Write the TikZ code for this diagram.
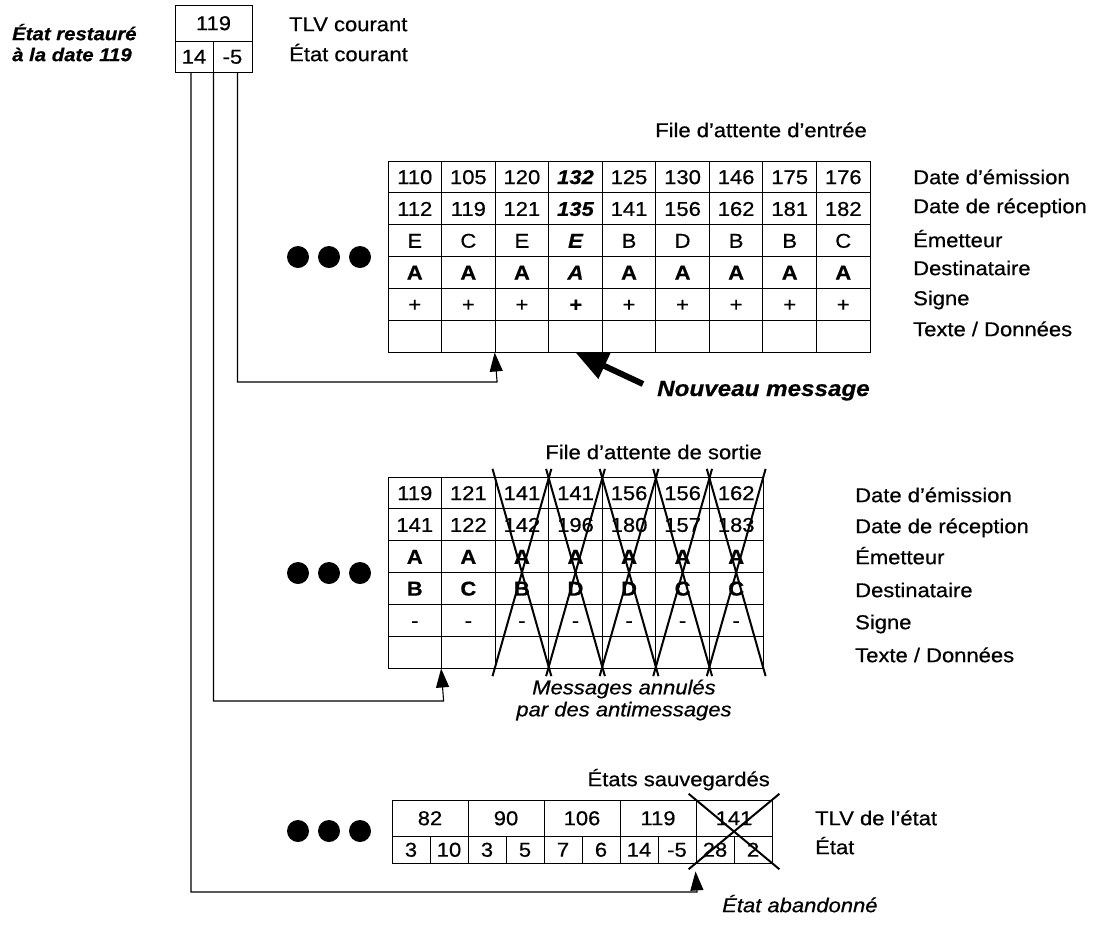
\documentclass[tikz,border=0pt]{standalone}
\usepackage{fontspec}
\setmainfont{Liberation Sans}[FakeStretch=1.1, FakeBold=0.6]
\usetikzlibrary{arrows.meta,calc}
\newcommand{\fs}[1]{\fontsize{#1}{#1}\selectfont}
\begin{document}
\begin{tikzpicture}[x=1pt,y=-1pt,
  every node/.style={inner sep=0pt},
  tx/.style={font=\fs{20}, text height=14.3pt, text depth=0pt},
  nrm/.style={},
  hl/.style={font=\fs{20}\bfseries\itshape},
  bfrow/.style={font=\fs{20}\bfseries},
  incell/.style={tx, draw, line width=0.9pt, minimum width=53.56pt, minimum height=31.83pt},
  outcell/.style={tx, draw, line width=0.9pt, minimum width=53.57pt, minimum height=31.83pt},
  stA/.style={tx, draw, line width=0.9pt, minimum width=76pt, minimum height=36pt},
  stB/.style={tx, draw, line width=0.9pt, minimum width=38pt, minimum height=27pt},
  lbl/.style={tx, anchor=west, font=\fs{20}},
  ttl/.style={tx, anchor=east, font=\fs{20}},
  itl/.style={font=\fs{20}\itshape},
  dot/.style={circle, fill=black, minimum size=22pt},
  conn/.style={line width=1.1pt, -{Triangle[length=19pt,width=13pt]}},
  xline/.style={line width=2pt},
  bigarrow/.style={line width=6pt, -{Triangle[length=32pt,width=27pt]}}
]
\useasboundingbox (0,0) rectangle (1100,935);

% top-left
\node[tx, anchor=west, font=\fs{18.5}\bfseries\itshape] (er1) at (12,33) {État restauré};
\node[tx, anchor=west, font=\fs{18.5}\bfseries\itshape] (er2) at (12,54) {à la date 119};
\node[tx, draw, line width=0.9pt, minimum width=77pt, minimum height=36pt] (b119) at (213.5,23) {119};
\node[tx, draw, line width=0.9pt, minimum width=38pt, minimum height=31pt] (b14) at (194,56.5) {14};
\node[tx, draw, line width=0.9pt, minimum width=39pt, minimum height=31pt] (bm5) at (232.5,56.5) {-5};
\node[lbl] (tlvc) at (289,24) {TLV courant};
\node[lbl] (etc) at (289,54) {État courant};

% input queue
\node[ttl] (tin) at (867,130) {File d'attente d'entrée};
\foreach \c/\a/\b/\e/\s in {1/110/112/E/nrm, 2/105/119/C/nrm, 3/120/121/E/nrm, 4/132/135/E/hl, 5/125/141/B/nrm, 6/130/156/D/nrm, 7/146/162/B/nrm, 8/175/181/B/nrm, 9/176/182/C/nrm}{
  \pgfmathsetmacro\xx{388+(\c-0.5)*53.56}
  \node[incell,\s] (in-\c-1) at (\xx,176.9) {\a};
  \node[incell,\s] (in-\c-2) at (\xx,208.7) {\b};
  \node[incell,\s] (in-\c-3) at (\xx,240.6) {\e};
  \node[incell,bfrow,\s] (in-\c-4) at (\xx,272.4) {A};
  \node[incell,\s] (in-\c-5) at (\xx,304.2) {+};
  \node[incell,\s] (in-\c-6) at (\xx,336.1) {};
}
\node[lbl] (lin-1) at (913,177) {Date d'émission};
\node[lbl] (lin-2) at (913,206) {Date de réception};
\node[lbl] (lin-3) at (913,240) {Émetteur};
\node[lbl] (lin-4) at (913,268) {Destinataire};
\node[lbl] (lin-5) at (913,298) {Signe};
\node[lbl] (lin-6) at (913,329) {Texte / Données};
\foreach \i/\x in {1/298,2/329,3/360}{ \node[dot] (din-\i) at (\x,257) {}; }

% new message
\node[tx, anchor=west, font=\fs{22}\bfseries\itshape, text height=16pt] (nm) at (657,388) {Nouveau message};
\coordinate (nmt) at (643,384);
\draw[bigarrow] (nmt) -- (in-4-6.south);

% output queue
\node[ttl] (tout) at (762,452) {File d'attente de sortie};
\foreach \c/\a/\b/\e/\d in {1/119/141/A/B, 2/121/122/A/C, 3/141/142/A/B, 4/141/196/A/D, 5/156/180/A/D, 6/156/157/A/C, 7/162/183/A/C}{
  \pgfmathsetmacro\xx{388+(\c-0.5)*53.57}
  \node[outcell] (out-\c-1) at (\xx,492.9) {\a};
  \node[outcell] (out-\c-2) at (\xx,524.7) {\b};
  \node[outcell,bfrow] (out-\c-3) at (\xx,556.6) {\e};
  \node[outcell,bfrow] (out-\c-4) at (\xx,588.4) {\d};
  \node[outcell] (out-\c-5) at (\xx,620.2) {-};
  \node[outcell] (out-\c-6) at (\xx,652.1) {};
}
\foreach \c in {3,...,7}{
  \draw[xline] ($(out-\c-1.north west)!-0.04!(out-\c-6.south east)$) -- ($(out-\c-6.south east)!-0.04!(out-\c-1.north west)$);
  \draw[xline] ($(out-\c-1.north east)!-0.04!(out-\c-6.south west)$) -- ($(out-\c-6.south west)!-0.04!(out-\c-1.north east)$);
}
\node[lbl] (lout-1) at (855,495) {Date d'émission};
\node[lbl] (lout-2) at (855,526) {Date de réception};
\node[lbl] (lout-3) at (855,557) {Émetteur};
\node[lbl] (lout-4) at (855,590) {Destinataire};
\node[lbl] (lout-5) at (855,622) {Signe};
\node[lbl] (lout-6) at (855,655) {Texte / Données};
\foreach \i/\x in {1/298,2/329,3/360}{ \node[dot] (dout-\i) at (\x,573) {}; }
\node[itl, align=center] (ann) at (624,700) {Messages annulés\\[2pt]par des antimessages};

% saved states
\node[ttl] (tst) at (770,779) {États sauvegardés};
\foreach \k/\v in {1/82,2/90,3/106,4/119,5/141}{
  \node[stA] (sa-\k) at ({392+(\k-0.5)*76},818) {\v};
}
\foreach \j/\v in {1/3,2/10,3/3,4/5,5/7,6/6,7/14,8/-5,9/28,10/2}{
  \node[stB] (sb-\j) at ({392+(\j-0.5)*38},849.5) {\v};
}
\draw[xline] ($(sa-5.north west)!-0.09!(sb-10.south east)$) -- ($(sb-10.south east)!-0.09!(sa-5.north west)$);
\draw[xline] ($(sa-5.north east)!-0.09!(sb-9.south west)$) -- ($(sb-9.south west)!-0.09!(sa-5.north east)$);
\node[lbl] (lst-1) at (815,818) {TLV de l'état};
\node[lbl] (lst-2) at (815,847) {État};
\foreach \i/\x in {1/298,2/329,3/360}{ \node[dot] (dst-\i) at (\x,831) {}; }
\node[itl, anchor=west, text height=14.3pt, text depth=0pt] (aband) at (722,905) {État abandonné};

% connectors
\coordinate (s1) at ([xshift=-3pt]b14.south);
\coordinate (s2) at (b14.south east);
\coordinate (s3) at ([xshift=-15pt]bm5.south east);
\coordinate (k1) at (697,892);
\coordinate (t1) at ([yshift=-8pt]sb-9.south west);
\coordinate (k2) at (443.6,701);
\coordinate (k3) at (497.1,382);
\draw[conn] (s1) |- (k1) -- (t1);
\draw[conn] (s2) |- (k2) -- (out-2-6.south west);
\draw[conn] (s3) |- (k3) -- (in-3-6.south west);
\end{tikzpicture}
\end{document}
